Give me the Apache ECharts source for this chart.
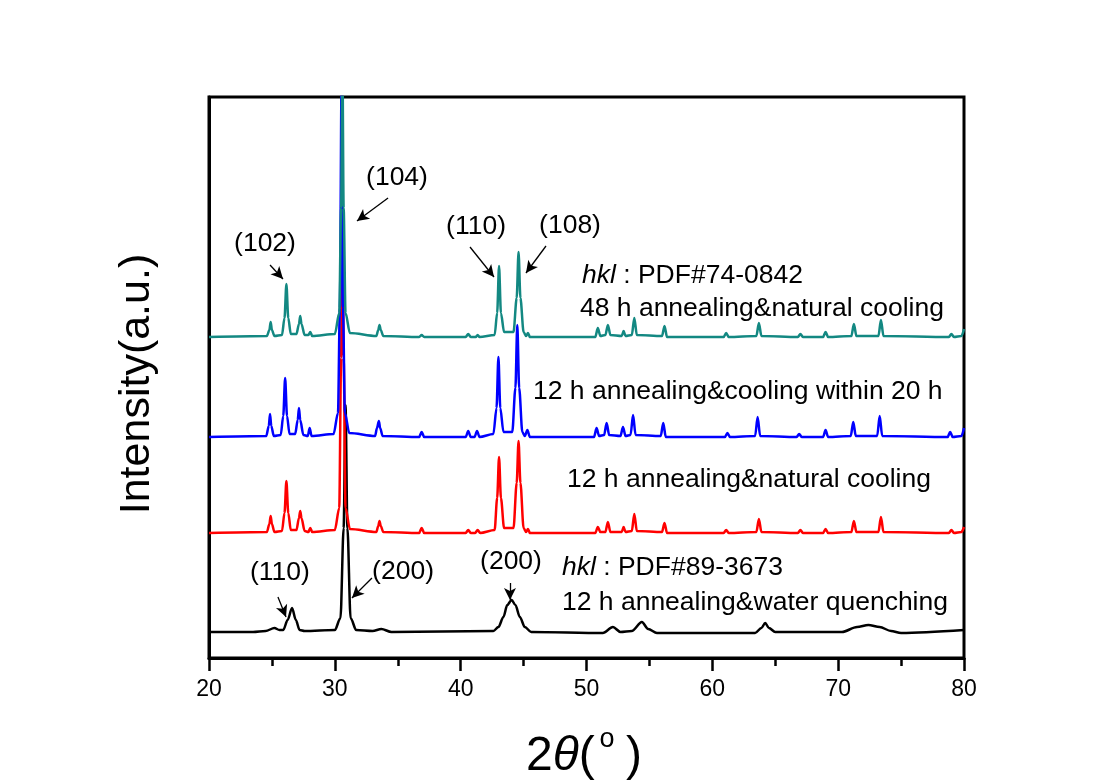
<!DOCTYPE html>
<html>
<head>
<meta charset="utf-8">
<script src="https://cdn.jsdelivr.net/npm/echarts@6/dist/echarts.min.js"></script>
<style>html,body{margin:0;padding:0;background:#fff}#c{width:1105px;height:782px}</style>
</head>
<body>
<div id="c"></div>
<script>
// ---- data (2θ in degrees, intensity in arbitrary units, curves offset) ----
const xTickLabels = ['20','30','40','50','60','70','80'];

const blackX = [20,23.5,24.5,25.2,25.6,25.9,26.25,26.6,26.9,27.2,27.6,30.0,30.45,30.7,30.85,31.0,31.25,31.7,33.0,33.7,34.5,42.6,43.0,43.4,43.7,44.05,44.35,44.7,45.1,45.6,51.3,52.1,52.7,53.6,54.4,54.9,55.6,63.4,63.9,64.2,64.5,65.0,70.3,71.5,72.4,73.3,74.2,75.0,80];
const blackY = [26,26,27,30,28,28,38,50,38,28,27,28,40,130,253,130,40,28,27,29,26,27,31,41,53,58,53,41,31,26,25,31,26,27,36,29,25,25,30,35,30,26,26,31,33,31,27,25,28];

const redX = [20,24.6,24.8,24.9,25.0,25.2,25.8,26.0,26.15,26.3,26.5,26.95,27.15,27.25,27.35,27.6,27.9,28.05,28.2,30.0,30.35,30.5,30.6,30.7,30.85,31.2,33.3,33.45,33.55,33.65,33.85,36.7,36.9,37.1,40.4,40.6,40.8,41.15,41.35,41.55,42.7,42.9,43.05,43.2,43.45,44.2,44.45,44.6,44.75,45.0,45.2,45.35,45.5,50.7,50.9,51.1,51.5,51.7,51.9,52.8,52.95,53.1,53.6,53.8,54.0,56.0,56.2,56.4,60.9,61.1,61.3,63.5,63.7,63.9,66.8,67.0,67.2,68.8,69.0,69.2,71.05,71.25,71.45,73.2,73.4,73.6,78.8,79.0,79.2,79.8,80];
const redY = [125,126,134,142,134,126,127,145,177,145,128,128,140,147,140,127,126,130,126,128,150,300,478,300,150,129,126,132,137,132,126,125,130,125,125,128,125,125,128,125,128,160,201,160,130,130,175,217,175,130,126,129,125,125,131,126,126,136,126,126,131,126,127,144,127,126,135,125,125,128,125,126,139,126,125,128,125,125,129,125,126,137,126,126,141,126,125,128,125,126,131];

const blueX = [20,24.55,24.75,24.85,24.95,25.15,25.7,25.9,26.05,26.2,26.4,26.85,27.05,27.15,27.25,27.5,27.85,28.0,28.15,29.9,30.25,30.4,30.55,30.65,30.8,31.15,33.2,33.35,33.5,33.6,33.8,36.7,36.9,37.1,40.4,40.6,40.8,41.1,41.3,41.5,42.6,42.85,43.0,43.15,43.4,44.1,44.35,44.5,44.65,44.9,45.1,45.3,45.5,50.6,50.8,51.0,51.4,51.6,51.8,52.7,52.9,53.1,53.5,53.7,53.9,55.9,56.1,56.3,61.0,61.2,61.4,63.4,63.6,63.8,66.7,66.9,67.1,68.8,69.0,69.2,71.0,71.2,71.4,73.1,73.3,73.5,78.7,78.9,79.1,79.8,80];
const blueY = [221,222,232,244,232,222,223,242,280,242,224,224,238,250,238,223,222,230,222,224,245,350,600,350,245,225,222,230,237,230,222,221,226,221,221,227,221,221,227,221,224,250,301,250,226,226,270,333,270,226,222,228,221,221,230,222,223,235,223,222,231,222,223,243,223,222,235,221,221,225,221,222,241,222,221,224,221,221,228,221,222,236,222,222,242,222,221,226,221,222,230];

const tealX = [20,24.6,24.8,24.9,25.0,25.2,25.8,26.0,26.15,26.3,26.5,26.95,27.15,27.25,27.35,27.6,27.9,28.05,28.2,30.0,30.35,30.5,30.6,30.7,30.85,31.2,33.3,33.45,33.55,33.65,33.85,36.7,36.9,37.1,40.4,40.6,40.8,41.2,41.35,41.5,42.7,42.9,43.05,43.2,43.45,44.2,44.45,44.6,44.75,45.0,45.2,45.35,45.5,50.7,50.9,51.1,51.5,51.7,51.9,52.8,52.95,53.1,53.6,53.8,54.0,56.0,56.2,56.4,60.9,61.1,61.3,63.5,63.7,63.9,66.8,67.0,67.2,68.8,69.0,69.2,71.05,71.25,71.45,73.2,73.4,73.6,78.8,79.0,79.2,79.8,80];
const tealY = [321,322,328,336,328,322,323,340,374,340,324,324,334,342,334,323,323,326,322,324,345,450,600,450,345,325,322,328,333,328,322,321,323,321,321,324,321,321,323,321,323,345,392,345,326,326,360,406,360,326,322,325,321,321,330,322,323,333,323,322,327,322,323,340,323,322,332,321,321,325,321,322,335,322,321,324,321,321,326,321,322,334,322,322,338,322,321,324,321,322,329];

// annotation labels: [text, 2θ, intensity, align]
const labelTexts = [
  ['(102)', 24.45, 414, 'center'],
  ['(104)', 34.94, 480, 'center'],
  ['(110)', 41.22, 431, 'center'],
  ['(108)', 48.69, 432, 'center'],
  ['{i|hkl}{n| : PDF#74-0842}', 49.64, 382, 'left'],
  ['48 h annealing&natural cooling', 49.48, 349, 'left'],
  ['12 h annealing&cooling within 20 h', 45.75, 266, 'left'],
  ['12 h annealing&natural cooling', 48.45, 178, 'left'],
  ['(110)', 25.64, 85, 'center'],
  ['(200)', 35.42, 86, 'center'],
  ['(200)', 44.0, 96, 'center'],
  ['{i|hkl}{n| : PDF#89-3673}', 48.05, 90, 'left'],
  ['12 h annealing&water quenching', 48.05, 55, 'left']
];
// arrows: [from2θ, fromI, to2θ, toI]
const arrows = [
  [24.85, 393, 25.88, 379],
  [34.23, 460, 31.76, 437],
  [40.74, 411, 42.65, 381],
  [46.78, 412, 45.19, 385],
  [25.48, 61, 26.12, 41],
  [32.95, 80, 31.36, 60],
  [43.92, 75, 43.92, 58]
];

const FONT = 'Liberation Sans, Arial, sans-serif';
const ANN = 26.5;
function pairs(xs, ys){ return xs.map((v,i)=>[v, ys[i]]); }

const chart = echarts.init(document.getElementById('c'), null, {renderer:'canvas'});
function lineSeries(name, xs, ys, color, extra){
  return Object.assign({
    name, type:'line', data: pairs(xs, ys), showSymbol:false, symbol:'none',
    smooth:0.3, smoothMonotone:'x', clip:true, silent:true,
    lineStyle:{color, width:2.5, join:'round'}
  }, extra || {});
}

chart.setOption({
  animation:false,
  backgroundColor:'#ffffff',
  grid:{left:209, right:141, top:97, bottom:124, show:true, borderColor:'#000', borderWidth:3, backgroundColor:'transparent'},
  xAxis:{
    type:'value', min:20, max:80, interval:10,
    axisLine:{show:true, onZero:false, lineStyle:{color:'#000', width:3}},
    axisTick:{show:true, inside:false, length:13, lineStyle:{color:'#000', width:2.5}},
    minorTick:{show:true, splitNumber:2, length:8, lineStyle:{color:'#000', width:2.5}},
    splitLine:{show:false},
    axisLabel:{color:'#000', fontSize:23, fontFamily:FONT, margin:20,
      formatter:(v)=>{ const i = Math.round((v-20)/10); return xTickLabels[i] !== undefined ? xTickLabels[i] : ''; }}
  },
  yAxis:{
    type:'value', min:0, max:561,
    axisLine:{show:true, onZero:false, lineStyle:{color:'#000', width:3}},
    axisTick:{show:false}, axisLabel:{show:false}, splitLine:{show:false}
  },
  series:[
    lineSeries('12 h annealing&water quenching', blackX, blackY, '#000000', {
      markLine:{
        silent:true, symbol:['none','arrow'], symbolSize:[9,12], animation:false,
        label:{show:false}, lineStyle:{color:'#000', width:1.3, type:'solid'},
        emphasis:{disabled:true},
        data: arrows.map(a=>[{coord:[a[0],a[1]]},{coord:[a[2],a[3]]}])
      }
    }),
    lineSeries('12 h annealing&natural cooling', redX, redY, '#ff0000'),
    lineSeries('12 h annealing&cooling within 20 h', blueX, blueY, '#0000ff'),
    lineSeries('48 h annealing&natural cooling', tealX, tealY, '#138882')
  ]
});

const rich = {
  i:{fontStyle:'italic', fontSize:ANN, fontFamily:FONT, fill:'#000'},
  n:{fontSize:ANN, fontFamily:FONT, fill:'#000'}
};
const graphics = labelTexts.map(t=>{
  const p = chart.convertToPixel({xAxisIndex:0, yAxisIndex:0}, [t[1], t[2]]);
  const isRich = t[0].indexOf('{') === 0;
  return {type:'text', x:p[0], y:p[1], silent:true, z:50,
    style:{text:t[0], fontSize:ANN, fontFamily:FONT, fill:'#000', align:t[3], verticalAlign:'middle', rich: isRich ? rich : undefined}};
});
graphics.push({type:'text', x:137, y:384, rotation:Math.PI/2, silent:true,
  style:{text:'Intensity(a.u.)', fontSize:43, fontFamily:FONT, fill:'#000', align:'center', verticalAlign:'middle'}});
graphics.push({type:'text', x:526, y:757, silent:true,
  style:{text:'{n|2}{i|θ}{n|(}', fontFamily:FONT, fill:'#000', align:'left', verticalAlign:'middle',
    rich:{n:{fontSize:48, fontFamily:FONT, fill:'#000'}, i:{fontSize:48, fontStyle:'italic', fontFamily:FONT, fill:'#000'}}}});
graphics.push({type:'text', x:607, y:740, silent:true,
  style:{text:'o', fontSize:27, fontFamily:FONT, fill:'#000', align:'center', verticalAlign:'middle'}});
graphics.push({type:'text', x:626, y:757, silent:true,
  style:{text:')', fontSize:48, fontFamily:FONT, fill:'#000', align:'left', verticalAlign:'middle'}});
chart.setOption({graphic:graphics});
</script>
</body>
</html>
